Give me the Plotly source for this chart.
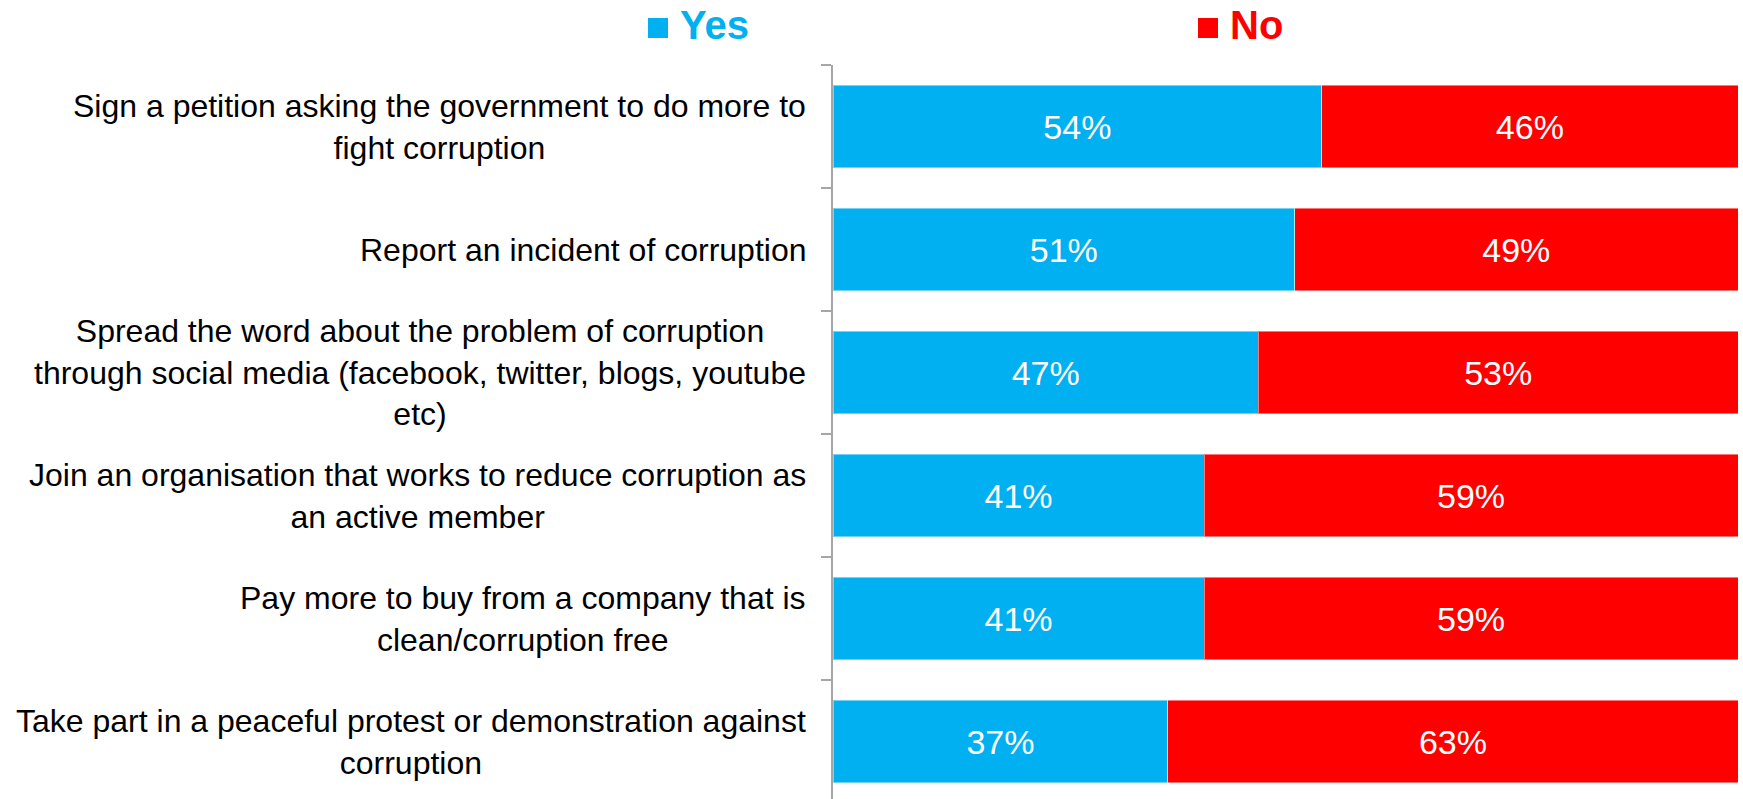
import plotly.graph_objects as go

# Survey statements (top to bottom) and the share answering Yes / No
categories = [
    "Sign a petition asking the government to do more to<br>fight corruption",
    "Report an incident of corruption",
    "Spread the word about the problem of corruption<br>through social media (facebook, twitter, blogs, youtube<br>etc)",
    "Join an organisation that works to reduce corruption as<br>an active member",
    "Pay more to buy from a company that is<br>clean/corruption free",
    "Take part in a peaceful protest or demonstration against<br>corruption",
]
yes_pct = [54, 51, 47, 41, 41, 37]
no_pct = [46, 49, 53, 59, 59, 63]

YES_COLOR = "#00B0F0"
NO_COLOR = "#FF0000"
FONT = "Liberation Sans, Arial, sans-serif"

W, H = 1743, 799
M_L, M_R, M_T, M_B = 833, 5, 65, 0
plot_w = W - M_L - M_R
plot_h = H - M_T - M_B


def px_x(px):
    return (px - M_L) / plot_w


def px_y(py):
    return (H - M_B - py) / plot_h


keys = [f"c{i}" for i in range(len(categories))]

fig = go.Figure()
for name, vals, color in [("Yes", yes_pct, YES_COLOR), ("No", no_pct, NO_COLOR)]:
    fig.add_trace(go.Bar(
        name=name,
        y=keys,
        x=vals,
        orientation="h",
        marker=dict(color=color, line=dict(color="rgba(255,255,255,0.45)", width=1)),
        texttemplate="%{x}%",
        textposition="inside",
        insidetextanchor="middle",
        textfont=dict(family=FONT, size=34, color="white"),
        hoverinfo="skip",
        showlegend=False,
    ))

# Statement labels, centred line by line and right-aligned against the axis
for k, label in zip(keys, categories):
    fig.add_annotation(
        x=0, xref="paper", y=k, yref="y",
        text=label, showarrow=False,
        xanchor="right", yanchor="middle", align="center",
        xshift=-25,
        font=dict(family=FONT, size=32, color="#000000"),
    )

# Legend header: coloured squares with bold labels
legend_items = [("Yes", YES_COLOR, 648, 668, 678), ("No", NO_COLOR, 1198, 1218, 1228)]
for label, color, sq_l, sq_r, txt_l in legend_items:
    fig.add_shape(
        type="rect", xref="paper", yref="paper",
        x0=px_x(sq_l), x1=px_x(sq_r), y0=px_y(38), y1=px_y(18),
        fillcolor=color, line=dict(width=0),
    )
    fig.add_annotation(
        x=px_x(txt_l), xref="paper", y=px_y(25), yref="paper",
        text=f"<b>{label}</b>", showarrow=False,
        xanchor="left", yanchor="middle",
        font=dict(family=FONT, size=40, color=color),
    )

n = len(categories)
fig.update_layout(
    width=W, height=H,
    margin=dict(l=M_L, r=M_R, t=M_T, b=M_B),
    barmode="stack",
    bargap=0.333,
    plot_bgcolor="white",
    paper_bgcolor="white",
    xaxis=dict(range=[0, 100], visible=False, fixedrange=True),
    yaxis=dict(
        type="category",
        categoryorder="array", categoryarray=keys,
        range=[n - 0.5 - 4 / 123, -0.5],
        showticklabels=False,
        tickson="boundaries",
        ticks="outside", ticklen=10, tickwidth=1.5, tickcolor="#A6A6A6",
        showline=True, linecolor="#A6A6A6", linewidth=1.5,
        showgrid=False, zeroline=False,
    ),
)

fig.write_html("out.html")
